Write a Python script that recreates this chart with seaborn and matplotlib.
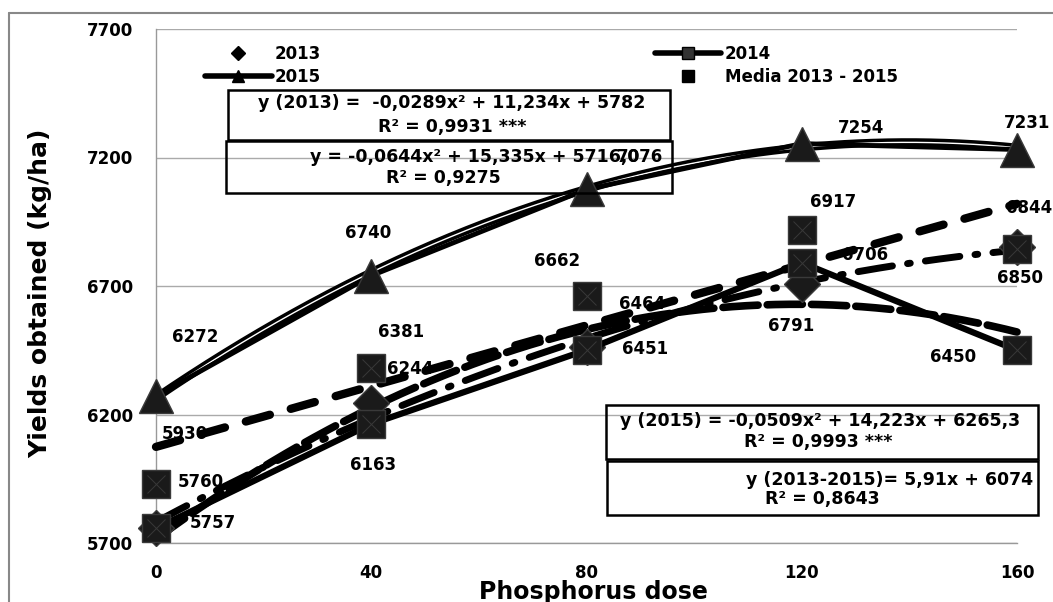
import numpy as np
import pandas as pd
import matplotlib
matplotlib.use("Agg")
import matplotlib.pyplot as plt
from matplotlib.lines import Line2D
from matplotlib.patches import Rectangle
import seaborn as sns

# ---- data -------------------------------------------------------------
dose = [0, 40, 80, 120, 160]
y2013 = [5760, 6244, 6464, 6706, 6850]
y2014 = [5757, 6163, 6451, 6791, 6450]
y2015 = [6272, 6740, 7076, 7254, 7231]
media = [5930, 6381, 6662, 6917, 6844]

# trend-line coefficients, highest power first
trend2013 = [-0.0289, 11.234, 5782]
trend2014 = [-0.0644, 15.335, 5716.0]
trend2015 = [-0.0509, 14.223, 6265.3]
trend_media = [5.91, 6074]

yticks = [5700, 6200, 6700, 7200, 7700]
xticks = [0, 40, 80, 120, 160]

# label offsets (dose, kg/ha) from each point
off2013 = [(8.4, 177), (7.2, 133), (10.3, 166), (11.7, 115), (0.5, -119)]
off2014 = [(10.6, 21), (0.3, -160), (10.8, 4), (-2, -247), (-11.9, -26)]
off2015 = [(7.2, 230), (-0.6, 166), (10, 126), (11, 61), (1.9, 103)]
offmed = [(5.4, 194), (5.5, 140), (-5.5, 135), (5.8, 110), (2.2, 159)]

# ---- figure -----------------------------------------------------------
sns.set_style("white")
plt.rcParams["font.family"] = ["DejaVu Sans"]
plt.rcParams["font.weight"] = "bold"
plt.rcParams["text.color"] = "black"
plt.rcParams["axes.labelcolor"] = "black"
plt.rcParams["xtick.color"] = "#999999"
plt.rcParams["ytick.color"] = "#999999"
plt.rcParams["xtick.labelcolor"] = "black"
plt.rcParams["ytick.labelcolor"] = "black"

W, H = 1053, 602
fig = plt.figure(figsize=(W / 100, H / 100), dpi=100)


def fx(px):
    return px / W


def fy(py):
    return 1 - py / H


ax = fig.add_axes([fx(156), fy(543), fx(1017) - fx(156), fy(29) - fy(543)])
ax.set_xlim(0, 160)
ax.set_ylim(5700, 7700)
ax.set_xticks(xticks)
ax.set_yticks(yticks)
ax.yaxis.grid(True, color="#aaaaaa", lw=1)
ax.xaxis.grid(False)
for s in ("top", "right"):
    ax.spines[s].set_visible(False)
for s in ("left", "bottom"):
    ax.spines[s].set_color("#999999")
    ax.spines[s].set_linewidth(1)
ax.tick_params(axis="y", length=6.5, pad=10, labelsize=12,
               labelcolor="black")
ax.tick_params(axis="x", length=5, pad=10, labelsize=12, labelcolor="black")
ax.set_axisbelow(True)

xs = np.linspace(0, 160, 300)
df_trend = pd.DataFrame({
    "dose": xs,
    "t2013": np.polyval(trend2013, xs),
    "t2014": np.polyval(trend2014, xs),
    "t2015": np.polyval(trend2015, xs),
    "tmed": np.polyval(trend_media, xs),
})

# trend lines
sns.lineplot(data=df_trend, x="dose", y="t2015", ax=ax, color="black", lw=6,
             zorder=3, clip_on=False)
sns.lineplot(data=df_trend, x="dose", y="t2015", ax=ax, color="white", lw=1,
             zorder=3.1, clip_on=False)
l13 = sns.lineplot(data=df_trend, x="dose", y="t2013", ax=ax, color="black",
                   lw=5, zorder=3, clip_on=False).lines[-1]
l13.set_dashes([5.0, 2.2, 0.4, 2.2])
l13.set_dash_capstyle("round")
l14 = sns.lineplot(data=df_trend, x="dose", y="t2014", ax=ax, color="black",
                   lw=5.5, zorder=3, clip_on=False).lines[-1]
l14.set_dashes([4.6, 1.2])
l14.set_dash_capstyle("round")
lm = sns.lineplot(data=df_trend, x="dose", y="tmed", ax=ax, color="black",
                  lw=6, zorder=3, clip_on=False).lines[-1]
lm.set_dashes([3, 2.6])
lm.set_dash_capstyle("round")

# series lines and markers
df = pd.DataFrame({"dose": dose, "y2013": y2013, "y2014": y2014,
                   "y2015": y2015, "media": media})
mk = dict(markerfacecolor="#1a1a1a", markeredgecolor="#3a3a3a",
          markeredgewidth=1, clip_on=False)
sns.lineplot(data=df, x="dose", y="y2013", ax=ax, lw=0, marker="D",
             markersize=18, zorder=4, **mk)
sns.lineplot(data=df, x="dose", y="y2014", ax=ax, color="black", lw=4.5,
             marker="s", markersize=20, zorder=4.2, **mk)
sns.lineplot(data=df, x="dose", y="y2015", ax=ax, color="black", lw=3.5,
             marker="^", markersize=24, zorder=4.1, **mk)
sns.lineplot(data=df, x="dose", y="media", ax=ax, lw=0, marker="s",
             markersize=20, zorder=4.3, **mk)
# faint pyramid edges on the square markers
for col in ("y2014", "media"):
    ax.plot(df["dose"], df[col], ls="none", marker="x", markersize=13,
            markeredgecolor="#383838", markeredgewidth=0.7, zorder=4.4,
            clip_on=False)

# value labels
for vals, offs in ((y2013, off2013), (y2014, off2014),
                   (y2015, off2015), (media, offmed)):
    for x, v, (dx, dy) in zip(dose, vals, offs):
        ax.text(x + dx, v + dy, f"{v}", ha="center", va="center",
                fontsize=12, fontweight="bold", zorder=2.5, clip_on=False)

ax.set_xlabel("Phosphorus dose", fontsize=17, fontweight="bold")
ax.set_ylabel("Yields obtained (kg/ha)", fontsize=18, fontweight="bold")
ax.xaxis.set_label_coords((593 - 156) / 861, (543 - 580) / 514)
ax.yaxis.set_label_coords((52 - 156) / 861, (543 - 293) / 514)

# legend
handles = [
    Line2D([], [], ls="none", marker="D", color="black", markersize=7),
    Line2D([], [], color="black", lw=4, marker="^", markersize=9,
           solid_capstyle="round"),
    Line2D([], [], color="black", lw=4, marker="s", markersize=8,
           markerfacecolor="#333333", solid_capstyle="round"),
    Line2D([], [], ls="none", marker="s", color="black", markersize=9),
]
labels = ["2013", "2015", "2014", "Media 2013 - 2015"]
ax.legend(handles, labels, ncol=2, loc="upper left",
          bbox_to_anchor=(fx(190), fy(30)), bbox_transform=fig.transFigure,
          frameon=False, prop={"weight": "bold", "size": 12},
          handlelength=4, handletextpad=0.2, columnspacing=20,
          labelspacing=0.3, borderpad=0.4)

# equation boxes
boxes = [(228, 90, 670, 140), (226, 141, 672, 193),
         (606, 405, 1038, 459), (607, 461, 1038, 515)]
for x0, y0, x1, y1 in boxes:
    fig.add_artist(Rectangle((fx(x0), fy(y1)), fx(x1) - fx(x0),
                             fy(y0) - fy(y1), transform=fig.transFigure,
                             fill=False, ec="black", lw=1.8, zorder=2))

eq = dict(fontsize=12.5, fontweight="bold", va="center", zorder=2.2)
fig.text(fx(452), fy(103), "y (2013) =  -0,0289x\u00b2 + 11,234x + 5782",
         ha="center", **eq)
fig.text(fx(452), fy(127), "R\u00b2 = 0,9931 ***", ha="center", **eq)
fig.text(fx(310), fy(157), "y = -0,0644x\u00b2 + 15,335x + 5716,0",
         ha="left", **eq)
fig.text(fx(443), fy(178), "R\u00b2 = 0,9275", ha="center", **eq)
fig.text(fx(820), fy(421), "y (2015) = -0,0509x\u00b2 + 14,223x + 6265,3",
         ha="center", **eq)
fig.text(fx(818), fy(442), "R\u00b2 = 0,9993 ***", ha="center", **eq)
fig.text(fx(1033), fy(480), "y (2013-2015)= 5,91x + 6074", ha="right", **eq)
fig.text(fx(765), fy(499), "R\u00b2 = 0,8643", ha="left", **eq)

# outer frame
fig.add_artist(Line2D([fx(9), 1], [fy(13), fy(13)], transform=fig.transFigure,
                      color="#888888", lw=1.5))
fig.add_artist(Line2D([fx(9), fx(9)], [0, fy(13)], transform=fig.transFigure,
                      color="#888888", lw=1.5))

fig.savefig("out.png", dpi=100)
